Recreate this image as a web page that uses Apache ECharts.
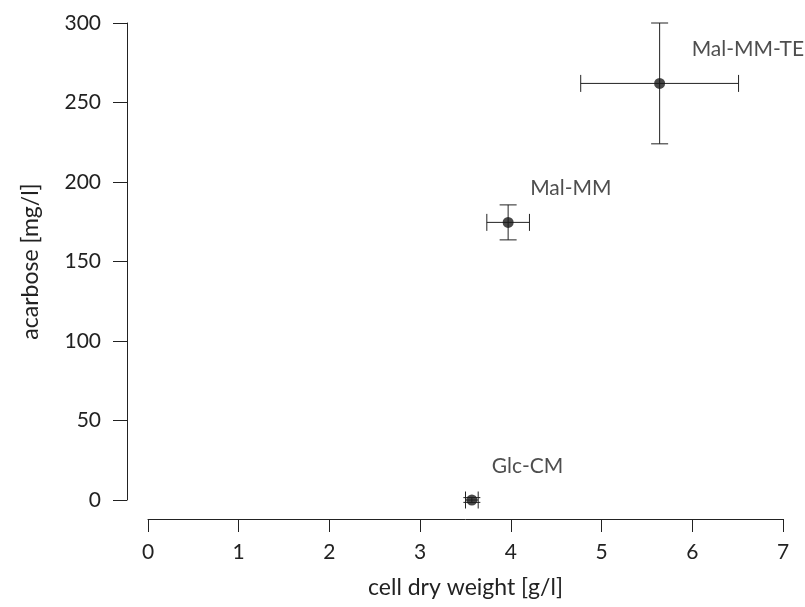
<!DOCTYPE html>
<html><head><meta charset="utf-8">
<script src="https://cdn.jsdelivr.net/npm/echarts@6/dist/echarts.min.js"></script>
<style>html,body{margin:0;padding:0;background:#fff}#c{width:805px;height:607px}</style>
</head><body><div id="c"></div>
<script>
const names = ['Glc-CM', 'Mal-MM', 'Mal-MM-TE'];
const cdw = [3.57, 3.97, 5.64];
const cdwErr = [0.07, 0.235, 0.87];
const acarbose = [0, 174.6, 262];
const acarboseErr = [1.5, 11, 38];
const labelOffsets = [[9.5, -34], [11.5, -34], [21.5, -34]];
const xTicks = [0, 1, 2, 3, 4, 5, 6, 7];
const yTicks = [0, 50, 100, 150, 200, 250, 300];

const font = 'Lato, "Noto Sans", sans-serif';
const txt = '#222';
const chart = echarts.init(document.getElementById('c'));
const errData = names.map((n, i) => [cdw[i], acarbose[i], cdwErr[i], acarboseErr[i]]);
chart.setOption({
  animation: false,
  grid: {left: 148, right: 22, top: 23, bottom: 107},
  xAxis: {
    type: 'value', min: xTicks[0], max: xTicks[xTicks.length - 1], interval: 1,
    offset: 19,
    name: 'cell dry weight [g/l]', nameLocation: 'middle', nameGap: 57,
    nameTextStyle: {fontFamily: font, fontSize: 23, color: txt},
    axisLine: {onZero: false, lineStyle: {color: '#222', width: 1}},
    axisTick: {length: 13, lineStyle: {color: '#222'}},
    axisLabel: {fontFamily: font, fontSize: 21, color: txt, margin: 23},
    splitLine: {show: false}
  },
  yAxis: {
    type: 'value', min: yTicks[0], max: yTicks[yTicks.length - 1], interval: 50,
    offset: 21,
    name: 'acarbose [mg/l]', nameLocation: 'middle', nameGap: 85,
    nameTextStyle: {fontFamily: font, fontSize: 23, color: txt},
    axisLine: {show: true, onZero: false, lineStyle: {color: '#222', width: 1}},
    axisTick: {show: true, length: 14, lineStyle: {color: '#222'}},
    axisLabel: {fontFamily: font, fontSize: 21, color: txt, margin: 26},
    splitLine: {show: false}
  },
  series: [
    {
      type: 'custom',
      data: errData,
      renderItem: function (params, api) {
        const x = api.value(0), y = api.value(1), ex = api.value(2), ey = api.value(3);
        const c = api.coord([x, y]);
        const l = api.coord([x - ex, y]), r = api.coord([x + ex, y]);
        const t = api.coord([x, y + ey]), b = api.coord([x, y - ey]);
        const cap = 8.5;
        const st = {stroke: '#222', lineWidth: 1};
        const lines = [
          [l[0], c[1], r[0], c[1]],
          [l[0], c[1] - cap, l[0], c[1] + cap],
          [r[0], c[1] - cap, r[0], c[1] + cap],
          [c[0], t[1], c[0], b[1]],
          [c[0] - cap, t[1], c[0] + cap, t[1]],
          [c[0] - cap, b[1], c[0] + cap, b[1]]
        ];
        return {type: 'group', children: lines.map(p => ({
          type: 'line', shape: {x1: p[0], y1: p[1], x2: p[2], y2: p[3]}, style: st
        }))};
      },
      z: 1
    },
    {
      type: 'scatter',
      symbol: 'circle', symbolSize: 11,
      itemStyle: {color: '#1a1a1a'},
      data: names.map((n, i) => ({
        value: [cdw[i], acarbose[i]], name: n,
        label: {show: true, formatter: n, position: 'right', offset: labelOffsets[i],
          fontFamily: font, fontSize: 21, color: txt}
      })),
      z: 2
    }
  ]
});
</script></body></html>
